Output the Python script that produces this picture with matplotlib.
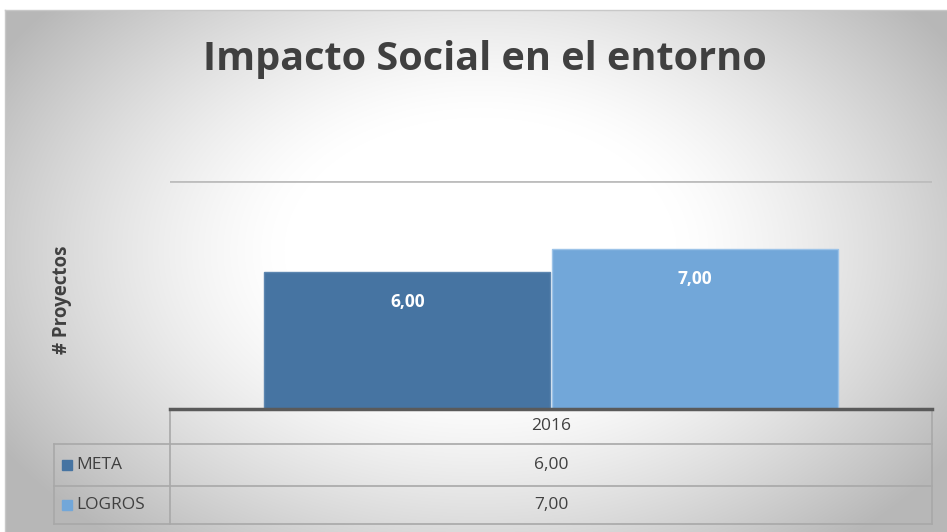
import matplotlib.pyplot as plt
import numpy as np

title = "Impacto Social en el entorno"
category = "2016"
series = ["META", "LOGROS"]
values = [6.0, 7.0]
colors = ["#4674A2", "#72A7D9"]
ylabel = "# Proyectos"

W, H = 947, 532
fig = plt.figure(figsize=(W / 100, H / 100), dpi=100)
plt.rcParams['font.family'] = ['Open Sans', 'DejaVu Sans']

# background: radial grey gradient, white in the middle
bg = fig.add_axes([0, 0, 1, 1])
yy, xx = np.mgrid[0:H, 0:W]
d = np.sqrt(((xx - 480) / 560.0) ** 2 + ((yy - 250) / 380.0) ** 2)
shade = np.clip(1.0 - 0.28 * np.clip((d - 0.35) / 0.65, 0, 1) ** 1.3, 0, 1)
img = np.dstack([shade] * 3)
img[:10, :] = 1.0
img[:, :5] = 1.0
bg.imshow(img, extent=(0, W, H, 0), aspect='auto', interpolation='bilinear')
bg.set_xlim(0, W)
bg.set_ylim(H, 0)
bg.axis('off')
bg.plot([5, W], [10, 10], color="#C8C8C8", lw=1)
bg.plot([5, 5], [10, H], color="#C8C8C8", lw=1)

# main bar axes
x0, x1, ytop, ybot = 170, 932, 181, 409
ax = fig.add_axes([x0 / W, (H - ybot) / H, (x1 - x0) / W, (ybot - ytop) / H])
ax.patch.set_alpha(0)
ax.set_xlim(-0.5, 0.5)
ax.set_ylim(0, 10)
width = 0.375
offsets = [-0.1885, 0.1885]
bars = ax.bar(offsets, values, width=width, color=colors, edgecolor=["#5C86B0", "#9CC3E8"],
              linewidth=1, zorder=3)
for b, v in zip(bars, values):
    ax.annotate(f"{v:.2f}".replace(".", ","), (b.get_x() + b.get_width() / 2, v),
                xytext=(0, -30), textcoords="offset pixels",
                ha="center", va="center", color="white", fontsize=12.5, fontweight="bold", zorder=4)
ax.axhline(10, color="#BDBDBD", lw=2, zorder=1)
ax.axhline(0, color="#5A5A5A", lw=2.5, zorder=5, clip_on=False)
for s in ax.spines.values():
    s.set_visible(False)
ax.set_xticks([])
ax.set_yticks([])

fig.text(485 / W, 1 - 60 / H, title, ha="center", va="center", fontsize=28.5,
         fontweight="bold", color="#404040")
fig.text(62 / W, 1 - 300 / H, ylabel, ha="center", va="center", rotation=90,
         fontsize=13.5, fontweight="bold", color="#404040")

# data table under the plot
lc = "#A8A8A8"
rows = [409, 444, 486, 524]
tx0 = 54
bg.plot([x0, x0], [rows[0], rows[-1]], color=lc, lw=1.2)
bg.plot([x1, x1], [rows[0], rows[-1]], color=lc, lw=1.2)
bg.plot([tx0, tx0], [rows[1], rows[-1]], color=lc, lw=1.2)
for r in rows[1:]:
    bg.plot([tx0, x1], [r, r], color=lc, lw=1.2)
cx = (x0 + x1) / 2
bg.text(cx, (rows[0] + rows[1]) / 2, category, ha="center", va="center",
        fontsize=12.5, color="#404040")
for i, (name, v, c) in enumerate(zip(series, values, colors)):
    yc = (rows[i + 1] + rows[i + 2]) / 2
    bg.add_patch(plt.Rectangle((62, yc - 5), 10, 10, color=c))
    bg.text(76, yc, name, ha="left", va="center", fontsize=12.5, color="#404040")
    bg.text(cx, yc, f"{v:.2f}".replace(".", ","), ha="center", va="center",
            fontsize=12.5, color="#404040")

fig.savefig("out.png", dpi=100)
